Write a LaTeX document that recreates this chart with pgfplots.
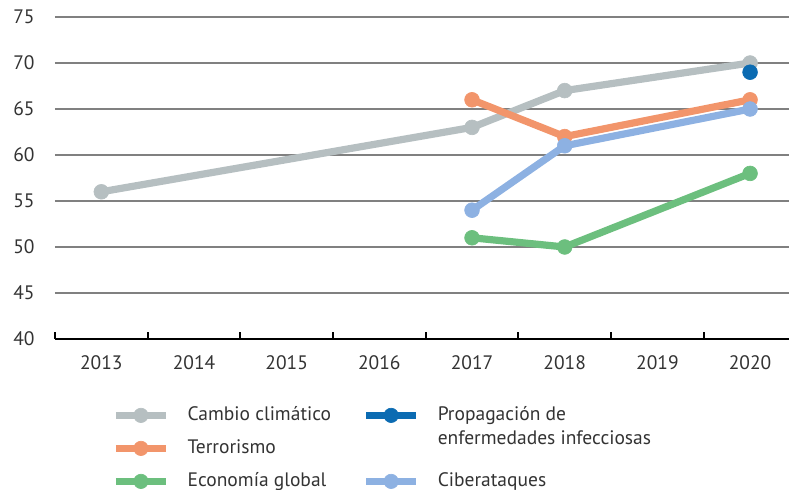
\documentclass[border=0pt]{standalone}
\usepackage{pgfplots}
\pgfplotsset{compat=1.18}
\usepackage{fontspec}
\setmainfont{PT Sans}
\definecolor{cgray}{HTML}{B6BFC1}
\definecolor{corange}{HTML}{F2956B}
\definecolor{cgreen}{HTML}{6CBF7E}
\definecolor{clblue}{HTML}{8DB1E2}
\definecolor{cdblue}{HTML}{0B6BB2}
\definecolor{ctext}{HTML}{333333}
\begin{document}
\begin{tikzpicture}[font=\fontsize{9.75}{11.9}\selectfont, every node/.style={text=ctext}]
\useasboundingbox (-27.5pt,-75.5pt) rectangle (367pt,169.5pt);
\begin{axis}[
  scale only axis, width=367pt, height=161pt,
  at={(0,0)}, anchor=south west,
  xmin=-0.5, xmax=7.42, ymin=40, ymax=75,
  /pgf/number format/assume math mode=true,
  axis lines*=left,
  y axis line style={draw=none},
  x axis line style={black, line width=1pt},
  ytick={40,45,...,75},
  ymajorgrids, grid style={black!50, line width=0.55pt},
  major y tick style={draw=none},
  xtick={0,...,7},
  xticklabels={2013,2014,2015,2016,2017,2018,2019,2020},
  major x tick style={draw=none},
  extra x ticks={-0.5,0.5,...,6.5},
  extra x tick labels={},
  extra x tick style={grid=none, tick align=inside, major tick length=3.5pt, major x tick style={draw=black, line width=0.9pt}},
  yticklabel style={inner sep=0pt, anchor=east, xshift=-10pt},
  xticklabel style={inner sep=0pt, anchor=north, yshift=-8pt},
  every axis plot/.append style={line width=3.6pt, line join=round, mark=*, mark size=3.7pt, mark options={solid, line width=0.3pt}},
  legend image code/.code={\draw[mark repeat=2,mark phase=2,#1] plot coordinates {(0pt,0pt) (12.5pt,0pt) (25pt,0pt)};},
  legend columns=2,
  legend cell align=left,
  legend style={draw=none, fill=none, inner sep=0pt, anchor=north west, at={(0.0776,-0.2081)},
    nodes={inner sep=0pt, text height=7pt, text depth=2pt},
    column sep=9pt, row sep=7.5pt},
]
\addplot[color=cgray, forget plot] coordinates {(0,56) (4,63) (5,67) (7,70)};
\addplot[color=cgreen, forget plot] coordinates {(4,51) (5,50) (7,58)};
\addplot[color=corange, forget plot] coordinates {(4,66) (5,62) (7,66)};
\addplot[color=clblue, forget plot] coordinates {(4,54) (5,61) (7,65)};
\addplot[color=cdblue, forget plot] coordinates {(7,69)};

\addlegendimage{color=cgray, line width=3.6pt, mark=*, mark size=3.6pt, mark options={solid, line width=0.3pt}}
\addlegendentry{\makebox[78.5pt][l]{Cambio climático}}
\addlegendimage{color=cdblue, line width=3.6pt, mark=*, mark size=3.6pt, mark options={solid, line width=0.3pt}}
\addlegendentry{\smash{\vtop{\hbox{Propagación de}\hbox{enfermedades infecciosas}}}}
\addlegendimage{color=corange, line width=3.6pt, mark=*, mark size=3.6pt, mark options={solid, line width=0.3pt}}
\addlegendentry{\makebox[78.5pt][l]{Terrorismo}}
\addlegendimage{empty legend}
\addlegendentry{}
\addlegendimage{color=cgreen, line width=3.6pt, mark=*, mark size=3.6pt, mark options={solid, line width=0.3pt}}
\addlegendentry{\makebox[78.5pt][l]{Economía global}}
\addlegendimage{color=clblue, line width=3.6pt, mark=*, mark size=3.6pt, mark options={solid, line width=0.3pt}}
\addlegendentry{Ciberataques}
\end{axis}
\end{tikzpicture}
\end{document}
